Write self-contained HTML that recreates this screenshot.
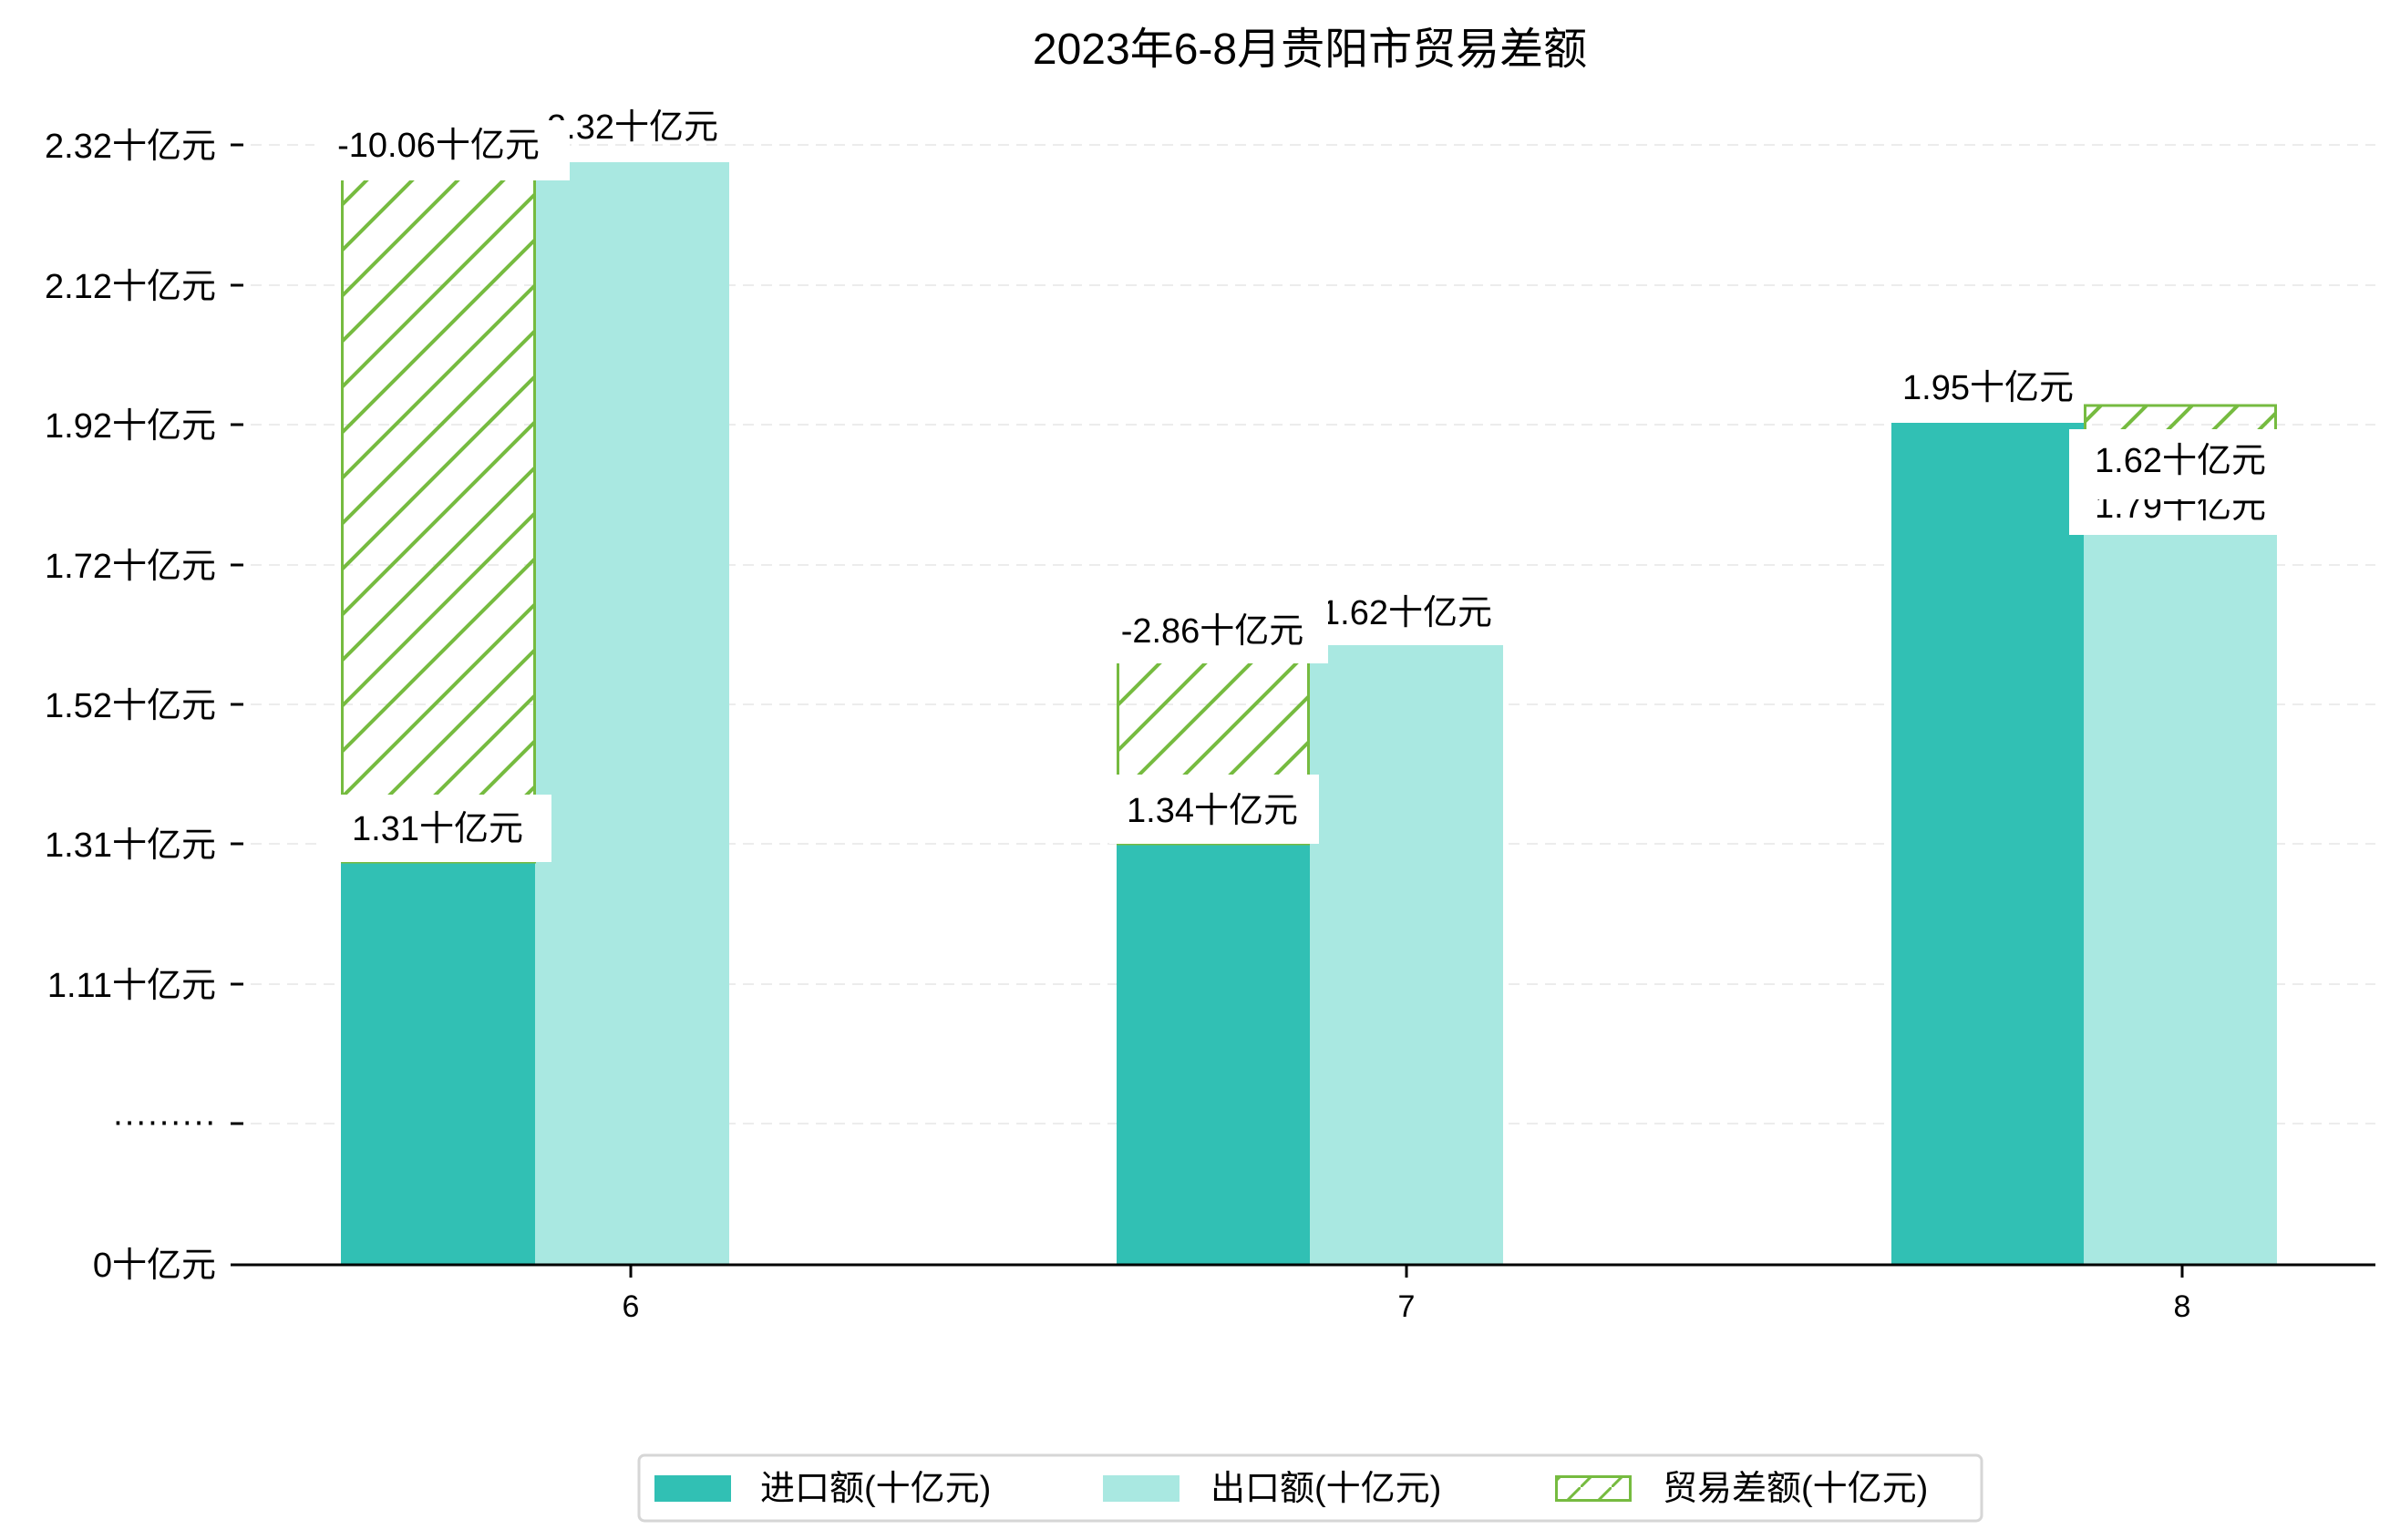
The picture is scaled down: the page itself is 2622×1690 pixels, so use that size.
<!DOCTYPE html>
<html><head><meta charset="utf-8"><style>
html,body{margin:0;padding:0;background:#fff;}
svg{display:block;}
text{font-family:"WenQuanYi Zen Hei","Liberation Sans","Noto Sans CJK SC",sans-serif;fill:#000;}
</style></head><body>
<svg width="2622" height="1690" viewBox="0 0 2622 1690" xmlns="http://www.w3.org/2000/svg">
<defs>
<pattern id="h" patternUnits="userSpaceOnUse" width="50" height="50">
<path d="M-10,60 L60,-10 M-10,10 L10,-10 M40,60 L60,40" stroke="#76bb40" stroke-width="4" fill="none"/>
</pattern>
<pattern id="hl" patternUnits="userSpaceOnUse" width="34" height="34">
<path d="M-5,39 L39,-5" stroke="#76bb40" stroke-width="3" fill="none"/>
</pattern>
</defs>
<text x="1437" y="70" font-size="48" text-anchor="middle">2023年6-8月贵阳市贸易差额</text>
<g stroke="#ececec" stroke-width="2" stroke-dasharray="12,8">
<line x1="255" x2="2606" y1="159" y2="159"/><line x1="255" x2="2606" y1="313" y2="313"/>
<line x1="255" x2="2606" y1="466" y2="466"/><line x1="255" x2="2606" y1="620" y2="620"/>
<line x1="255" x2="2606" y1="773" y2="773"/><line x1="255" x2="2606" y1="926" y2="926"/>
<line x1="255" x2="2606" y1="1080" y2="1080"/><line x1="255" x2="2606" y1="1233" y2="1233"/>
</g>
<g stroke="#000" stroke-width="3">
<line x1="253" x2="267" y1="159" y2="159"/><line x1="253" x2="267" y1="313" y2="313"/>
<line x1="253" x2="267" y1="466" y2="466"/><line x1="253" x2="267" y1="620" y2="620"/>
<line x1="253" x2="267" y1="773" y2="773"/><line x1="253" x2="267" y1="926" y2="926"/>
<line x1="253" x2="267" y1="1080" y2="1080"/><line x1="253" x2="267" y1="1233" y2="1233"/>
</g>
<g font-size="38" text-anchor="end">
<text x="237" y="173">2.32十亿元</text><text x="237" y="327">2.12十亿元</text>
<text x="237" y="480">1.92十亿元</text><text x="237" y="634">1.72十亿元</text>
<text x="237" y="787">1.52十亿元</text><text x="237" y="940">1.31十亿元</text>
<text x="237" y="1094">1.11十亿元</text><text x="237" y="1243">·········</text>
<text x="237" y="1401">0十亿元</text>
</g>
<rect x="374" y="946" width="213" height="441" fill="#31c0b4"/>
<rect x="587" y="178" width="213" height="1209" fill="#a9e8e1"/>
<rect x="375.5" y="150" width="211" height="796" fill="url(#h)" stroke="#76bb40" stroke-width="3"/>
<text x="694" y="152" font-size="38" text-anchor="middle">2.32十亿元</text>
<rect x="345" y="132" width="280" height="66" fill="#fff"/>
<text x="481" y="172" font-size="38" text-anchor="middle">-10.06十亿元</text>
<rect x="350" y="872" width="255" height="74" fill="#fff"/>
<text x="480" y="922" font-size="38" text-anchor="middle">1.31十亿元</text>
<rect x="1225" y="926" width="212" height="461" fill="#31c0b4"/>
<rect x="1437" y="708" width="212" height="679" fill="#a9e8e1"/>
<rect x="1226.5" y="700" width="209" height="226" fill="url(#h)" stroke="#76bb40" stroke-width="3"/>
<text x="1543" y="685" font-size="38" text-anchor="middle">1.62十亿元</text>
<rect x="1200" y="660" width="257" height="68" fill="#fff"/>
<text x="1330" y="705" font-size="38" text-anchor="middle">-2.86十亿元</text>
<rect x="1217" y="850" width="230" height="76" fill="#fff"/>
<text x="1330" y="902" font-size="38" text-anchor="middle">1.34十亿元</text>
<rect x="2075" y="464" width="211" height="923" fill="#31c0b4"/>
<rect x="2286" y="587" width="212" height="800" fill="#a9e8e1"/>
<rect x="2287.5" y="445" width="209" height="60" fill="url(#h)" stroke="#76bb40" stroke-width="3"/>
<text x="2181" y="438" font-size="38" text-anchor="middle">1.95十亿元</text>
<rect x="2270" y="471" width="230" height="116" fill="#fff"/>
<text x="2392" y="568" font-size="38" text-anchor="middle">1.79十亿元</text>
<rect x="2270" y="471" width="230" height="77" fill="#fff"/>
<text x="2392" y="518" font-size="38" text-anchor="middle">1.62十亿元</text>
<line x1="253" x2="2606" y1="1388" y2="1388" stroke="#000" stroke-width="3"/>
<g stroke="#000" stroke-width="3">
<line x1="692" x2="692" y1="1388" y2="1402"/><line x1="1543" x2="1543" y1="1388" y2="1402"/><line x1="2394" x2="2394" y1="1388" y2="1402"/>
</g>
<g font-size="34" text-anchor="middle">
<text x="692" y="1445">6</text><text x="1543" y="1445">7</text><text x="2394" y="1445">8</text>
</g>
<rect x="701" y="1597" width="1473" height="72" rx="6" fill="#fff" stroke="#d6d6d6" stroke-width="3"/>
<rect x="718" y="1619" width="84" height="29" fill="#31c0b4"/>
<text x="834" y="1646" font-size="38">进口额(十亿元)</text>
<rect x="1210" y="1619" width="84" height="29" fill="#a9e8e1"/>
<text x="1328" y="1646" font-size="38">出口额(十亿元)</text>
<rect x="1707.5" y="1620.5" width="81" height="26" fill="url(#hl)" stroke="#76bb40" stroke-width="3"/>
<text x="1824" y="1646" font-size="38">贸易差额(十亿元)</text>
</svg>
</body></html>
